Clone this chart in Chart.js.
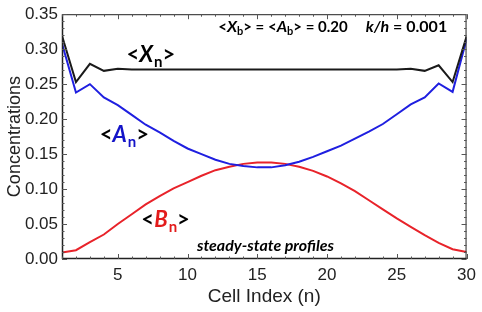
<!DOCTYPE html>
<html>
<head>
<meta charset="utf-8">
<script src="https://cdn.jsdelivr.net/npm/chart.js@4"></script>
<style>
 html,body{margin:0;padding:0;background:#fff}
 #wrap{width:482px;height:312px}
</style>
</head>
<body>
<div id="wrap"><canvas id="c"></canvas></div>
<script>

// cell index n = 1..30
const cells = [1,2,3,4,5,6,7,8,9,10,11,12,13,14,15,16,17,18,19,20,21,22,23,24,25,26,27,28,29,30]

const xValues = [0.319,0.253,0.279,0.269,0.272,0.271,0.271,0.271,0.271,0.271,
 0.271,0.271,0.271,0.271,0.271,0.271,0.271,0.271,0.271,0.271,
 0.271,0.271,0.271,0.271,0.271,0.272,0.269,0.277,0.253,0.318]

const aValues = [0.308,0.238,0.250,0.231,0.220,0.206,0.192,0.181,0.169,0.158,
 0.150,0.142,0.136,0.133,0.131,0.131,0.134,0.139,0.146,0.154,
 0.162,0.172,0.182,0.193,0.207,0.221,0.231,0.251,0.239,0.314]

const bValues = [0.0094,0.0126,0.024,0.035,0.050,0.064,0.078,0.090,0.101,0.110,
 0.119,0.127,0.132,0.136,0.138,0.138,0.136,0.132,0.126,0.118,
 0.108,0.097,0.084,0.071,0.058,0.046,0.034,0.023,0.014,0.010]

const xTicks = [5,10,15,20,25,30]
const yTicks = [0,0.05,0.10,0.15,0.20,0.25,0.30,0.35]

const toPts = vals => cells.map((n,i)=>({x:n,y:vals[i]}))

const BLUE = "#1f1fe0"
const RED = "#e8232a"

// frame with inward ticks on all sides
const framePlugin = {
 id:"frame",
 afterDraw(chart){
  const {ctx, chartArea:a, scales:{x,y}} = chart
  ctx.save()
  ctx.strokeStyle = "#222"
  ctx.lineWidth = 1
  ctx.strokeRect(a.left+0.5, a.top+0.5, a.right-a.left-1, a.bottom-a.top-1)
  ctx.lineWidth = 1.5
  ctx.beginPath()
  ctx.moveTo(a.left+0.5, a.top); ctx.lineTo(a.left+0.5, a.bottom)
  ctx.moveTo(a.left, a.bottom-0.5); ctx.lineTo(a.right, a.bottom-0.5)
  ctx.stroke()
  ctx.lineWidth = 1
  ctx.strokeStyle = "#555"
  ctx.beginPath()
  for(let n=1;n<=30;n++){
   const px = Math.round(x.getPixelForValue(n))+0.5
   const len = n%5===0 ? 5 : 2.5
   ctx.moveTo(px, a.bottom); ctx.lineTo(px, a.bottom-len)
   ctx.moveTo(px, a.top); ctx.lineTo(px, a.top+len)
  }
  for(let k=0;k<=35;k++){
   const py = Math.round(y.getPixelForValue(k/100))+0.5
   const len = k%5===0 ? 5 : 2.5
   ctx.moveTo(a.left, py); ctx.lineTo(a.left+len, py)
   ctx.moveTo(a.right, py); ctx.lineTo(a.right-len, py)
  }
  ctx.stroke()
  ctx.restore()
 }
}

function rich(ctx, parts, x0, y0){
 let x = x0
 parts.forEach(p=>{
  ctx.font = p.f
  ctx.fillStyle = p.c || "#000"
  ctx.fillText(p.t, x, y0 + (p.dy||0))
  x += ctx.measureText(p.t).width + (p.sp||0)
 })
}

const labelPlugin = {
 id:"labels",
 afterDatasetsDraw(chart){
  const {ctx, scales:{x,y}} = chart
  ctx.save()
  ctx.textBaseline = "alphabetic"
  const big = "bold 22px Lato"
  const bigI = "italic bold 22px Lato"
  const sub = "bold 15px Lato"

  rich(ctx,[
   {t:"<", f:big},
   {t:"X", f:bigI, sp:1},
   {t:"n", f:sub, dy:5},
   {t:">", f:big}
  ], x.getPixelForValue(5.62), y.getPixelForValue(0.282))

  rich(ctx,[
   {t:"<", f:big},
   {t:"A", f:bigI, c:"#1414c8", sp:1},
   {t:"n", f:sub, c:"#1414c8", dy:5},
   {t:">", f:big}
  ], x.getPixelForValue(3.7), y.getPixelForValue(0.167))

  rich(ctx,[
   {t:"<", f:big},
   {t:"B", f:bigI, c:"#e31b1b", sp:1},
   {t:"n", f:sub, c:"#e31b1b", dy:5},
   {t:">", f:big}
  ], x.getPixelForValue(6.69), y.getPixelForValue(0.046))

  ctx.font = "italic bold 16px Lato"
  ctx.fillStyle = "#000"
  ctx.fillText("steady-state profiles", x.getPixelForValue(10.67), y.getPixelForValue(0.0116))

  const m = "bold 15px Lato", mi = "italic bold 16px Lato", s = "bold 11px Lato"
  rich(ctx,[
   {t:"<", f:m},
   {t:"X", f:mi},
   {t:"b", f:s, dy:3},
   {t:"> = <", f:m},
   {t:"A", f:mi},
   {t:"b", f:s, dy:3},
   {t:"> = 0.20", f:m, sp:18},
   {t:"k/h", f:mi},
   {t:" = 0.001", f:"bold 16px Lato"}
  ], x.getPixelForValue(12.2), y.getPixelForValue(0.325))
  ctx.restore()
 }
}

new Chart(document.getElementById("c"),{
 type:"line",
 data:{
  datasets:[
   {label:"X", data:toPts(xValues), borderColor:"#1a1a1a", borderWidth:2},
   {label:"A", data:toPts(aValues), borderColor:BLUE, borderWidth:2},
   {label:"B", data:toPts(bValues), borderColor:RED, borderWidth:2}
  ]
 },
 options:{
  responsive:true,
  maintainAspectRatio:false,
  animation:false,
  elements:{point:{radius:0}, line:{tension:0}},
  layout:{padding:{top:9, right:12, left:0, bottom:0}},
  plugins:{legend:{display:false}, tooltip:{enabled:false}},
  scales:{
   x:{
    type:"linear", min:1, max:30,
    afterBuildTicks(s){ s.ticks = xTicks.map(v=>({value:v})) },
    afterFit(s){ s.height = 53 },
    grid:{display:false, drawTicks:false}, border:{display:false},
    ticks:{font:{family:"Liberation Sans", size:17}, color:"#222", padding:6},
    title:{display:true, text:"Cell Index (n)", font:{family:"Liberation Sans", size:19}, color:"#222", padding:{top:7}}
   },
   y:{
    min:0, max:0.35,
    afterBuildTicks(s){ s.ticks = yTicks.map(v=>({value:v})) },
    afterFit(s){ s.width = 62 },
    grid:{display:false, drawTicks:false}, border:{display:false},
    ticks:{font:{family:"Liberation Sans", size:17}, color:"#222", padding:4, callback:v=>v.toFixed(2)},
    title:{display:true, text:"Concentrations", font:{family:"Liberation Sans", size:18}, color:"#222", padding:{bottom:0}}
   }
  }
 },
 plugins:[framePlugin, labelPlugin]
})
</script>
</body>
</html>
